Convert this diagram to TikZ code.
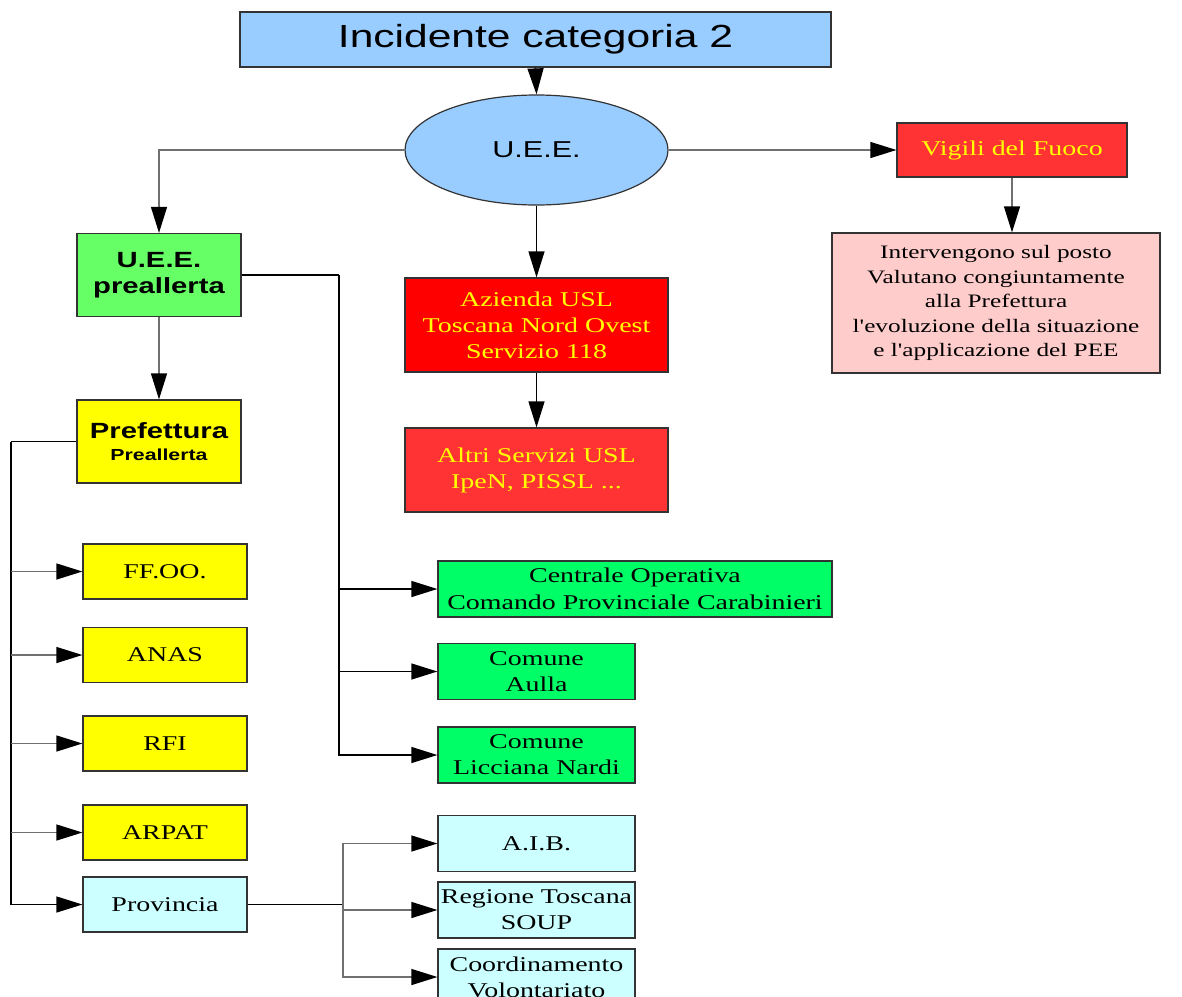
\documentclass[tikz,border=0pt]{standalone}
\usepackage{fontspec}
\usetikzlibrary{arrows.meta,shapes.geometric}
\newfontfamily\serifw[FakeStretch=1.33]{Liberation Serif}
\newfontfamily\sansw[FakeStretch=1.33]{Liberation Sans}
\definecolor{cblue}{HTML}{99CCFF}
\definecolor{cred}{HTML}{FF3333}
\definecolor{cdred}{HTML}{FF0000}
\definecolor{cpink}{HTML}{FFCCCC}
\definecolor{clgreen}{HTML}{66FF66}
\definecolor{cgreen}{HTML}{00FF66}
\definecolor{cyell}{HTML}{FFFF00}
\definecolor{ccyan}{HTML}{CCFFFF}
\definecolor{cborder}{HTML}{333333}
\definecolor{cline}{HTML}{707070}
\tikzset{
  box/.style={draw=cborder, line width=1.2pt, rectangle, inner sep=0pt, align=center, text=black},
  serif/.style={font=\serifw\fontsize{21}{26}\selectfont},
  ybox/.style={box, serif, fill=cyell, minimum width=164pt, minimum height=55pt},
  gbox/.style={box, serif, fill=cgreen, minimum height=56pt},
  cbox/.style={box, serif, fill=ccyan, minimum width=197pt, minimum height=56pt},
  conn/.style={line width=1.2pt, draw=black},
  gconn/.style={line width=1.2pt, draw=cline},
  arr/.style={-{Triangle[length=26pt,width=16pt,color=black]}},
}
\begin{document}
\begin{tikzpicture}[x=1pt,y=-1pt]
\useasboundingbox (0,0) rectangle (1182,996);
\clip (0,0) rectangle (1182,996);
% nodes
\node[box, fill=cblue, minimum width=591pt, minimum height=55pt, font=\sansw\fontsize{32}{36}\selectfont] (title) at (535.5,39.5) {Incidente categoria 2};
\node[draw=cborder, line width=1.2pt, ellipse, fill=cblue, minimum width=263pt, minimum height=110pt, inner sep=0pt, font=\sansw\fontsize{23}{26}\selectfont] (uee) at (536.5,150) {U.E.E.};
\node[box, fill=cred, minimum width=230pt, minimum height=54pt, font=\serifw\fontsize{21}{26}\selectfont, text=cyell] (vvf) at (1012,150) {Vigili del Fuoco};
\node[box, fill=cpink, minimum width=328pt, minimum height=140pt, font=\serifw\fontsize{19}{24.5}\selectfont] (pink) at (996,303) {Intervengono sul posto\\Valutano congiuntamente\\alla Prefettura\\l'evoluzione della situazione\\e l'applicazione del PEE};
\node[box, fill=cdred, minimum width=263pt, minimum height=94pt, font=\serifw\fontsize{21}{26}\selectfont, text=cyell] (asl) at (536.5,325) {Azienda USL\\Toscana Nord Ovest\\Servizio 118};
\node[box, fill=cred, minimum width=263pt, minimum height=84pt, font=\serifw\fontsize{21}{26}\selectfont, text=cyell] (altri) at (536.5,470) {Altri Servizi USL\\IpeN, PISSL ...};
\node[box, fill=clgreen, minimum width=164pt, minimum height=83pt, font=\sansw\bfseries\fontsize{22}{26}\selectfont] (prea) at (159,275) {U.E.E.\\preallerta};
\node[box, fill=cyell, minimum width=164pt, minimum height=83pt, font=\sansw\bfseries\fontsize{22}{26}\selectfont] (pref) at (159,441.5) {Prefettura\\[-4pt]{\fontsize{16}{18}\selectfont Preallerta}};
\node[ybox] (ff) at (165,571.5) {FF.OO.};
\node[ybox] (anas) at (165,655) {ANAS};
\node[ybox] (rfi) at (165,743.5) {RFI};
\node[ybox] (arpat) at (165,832.5) {ARPAT};
\node[ybox, fill=ccyan] (prov) at (165,904.5) {Provincia};
\node[gbox, minimum width=394pt, font=\serifw\fontsize{21}{27}\selectfont] (cen) at (635,589) {Centrale Operativa\\Comando Provinciale Carabinieri};
\node[gbox, minimum width=197pt] (aulla) at (536.5,671.5) {Comune\\Aulla};
\node[gbox, minimum width=197pt] (licc) at (536.5,755) {Comune\\Licciana Nardi};
\node[cbox] (aib) at (536.5,843.5) {A.I.B.};
\node[cbox] (reg) at (536.5,910) {Regione Toscana\\SOUP};
\node[cbox] (coord) at (536.5,977) {Coordinamento\\Volontariato};
% connectors
\draw[conn, arr] (title.south) -- (uee.north);
\draw[gconn, arr] (uee.west) -| (prea.north);
\draw[gconn, arr] (uee.east) -- (vvf.west);
\draw[conn, arr] (uee.south) -- (asl.north);
\draw[conn, arr] (asl.south) -- (altri.north);
\draw[gconn, arr] (vvf.south) -- (vvf.south |- pink.north);
\draw[gconn, arr] (prea.south) -- (pref.north);
% U.E.E. preallerta trunk
\coordinate (ta) at (339,275);
\draw[conn] (prea.east) -- (ta);
\draw[conn, arr] (ta) |- (licc.west);
\draw[conn, arr] (ta |- cen.west) -- (cen.west);
\draw[conn, arr] (ta |- aulla.west) -- (aulla.west);
% Prefettura trunk
\coordinate (tb) at (11,441.5);
\draw[conn] (pref.west) -- (tb);
\draw[conn, arr] (tb) |- (prov.west);
\draw[gconn, arr] (tb |- ff.west) -- (ff.west);
\draw[gconn, arr] (tb |- anas.west) -- (anas.west);
\draw[gconn, arr] (tb |- rfi.west) -- (rfi.west);
\draw[gconn, arr] (tb |- arpat.west) -- (arpat.west);
% Provincia trunk
\coordinate (tc) at (343,904.5);
\draw[conn] (prov.east) -- (tc);
\draw[gconn, arr] (tc) |- (aib.west);
\draw[gconn, arr] (tc) |- (coord.west);
\draw[gconn, arr] (tc |- reg.west) -- (reg.west);
\end{tikzpicture}
\end{document}
